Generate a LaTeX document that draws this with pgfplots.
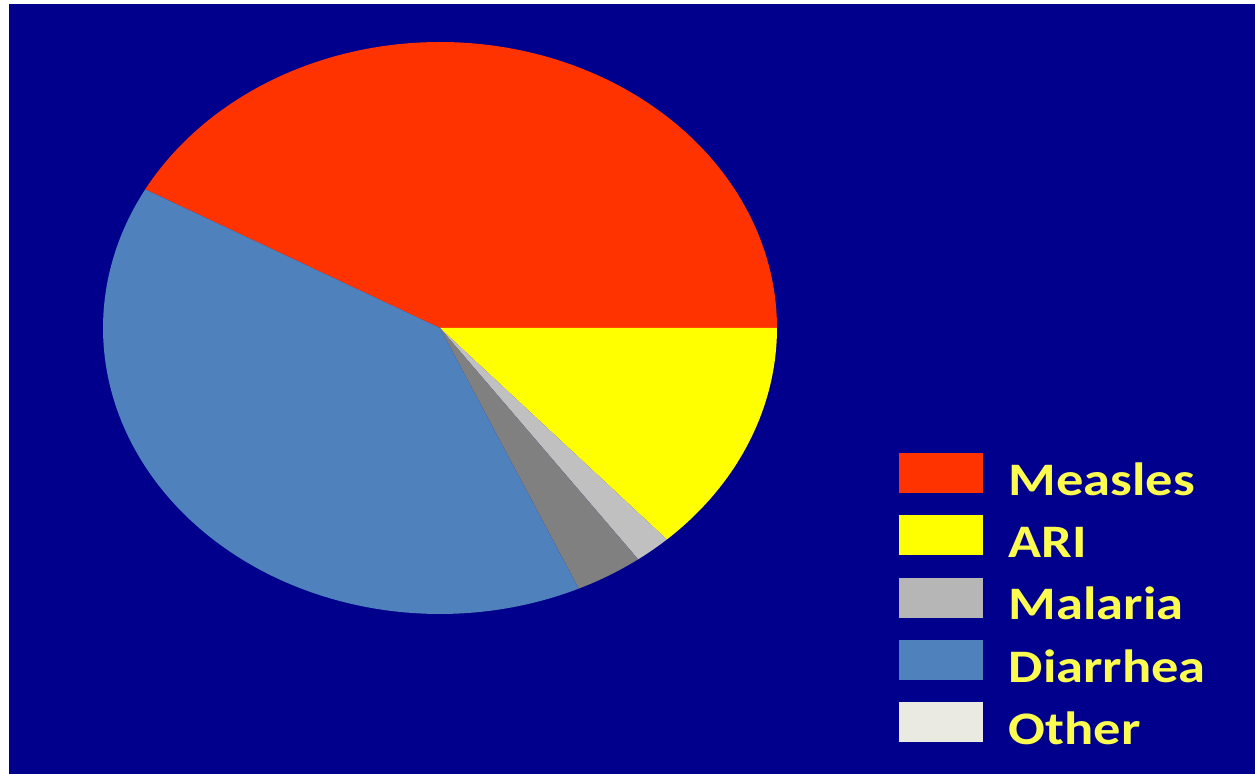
\documentclass[border=0pt]{standalone}
\usepackage{fontspec}
\setmainfont{Carlito}
\usepackage{graphicx}
\usepackage{pgfplots}
\pgfplotsset{compat=1.18}
\definecolor{bg}{RGB}{0,0,140}
\definecolor{measles}{RGB}{255,51,0}
\definecolor{ari}{RGB}{255,255,0}
\definecolor{slicelight}{RGB}{192,192,192}
\definecolor{slicedark}{RGB}{128,128,128}
\definecolor{diarrhea}{RGB}{79,129,189}
\definecolor{legmal}{RGB}{182,182,182}
\definecolor{legoth}{RGB}{234,234,226}
\definecolor{txt}{RGB}{252,252,80}
\newcommand{\sx}[1]{\scalebox{1.17}[1]{#1}}
% slice values (percent), clockwise from 151 degrees
\def\vMeasles{41.94}
\def\vARI{13.25}
\def\vLight{1.75}
\def\vDark{3.25}
\def\vDiarrhea{39.81}
\begin{document}
\begin{tikzpicture}
\useasboundingbox (0,0) rectangle (627.5pt,387pt);
\fill[white] (0,0) rectangle (627.5pt,387pt);
\fill[bg] (4.5pt,0) rectangle (627.5pt,385pt);
\pgfmathsetmacro\aA{151}
\pgfmathsetmacro\aB{\aA-3.6*\vMeasles}
\pgfmathsetmacro\aC{\aB-3.6*\vARI}
\pgfmathsetmacro\aD{\aC-3.6*\vLight}
\pgfmathsetmacro\aE{\aD-3.6*\vDark}
\pgfmathsetmacro\aF{\aE-3.6*\vDiarrhea}
\begin{axis}[
  at={(220pt,223pt)}, anchor=center,
  width=337pt, height=286pt, scale only axis,
  xmin=-1, xmax=1, ymin=-1, ymax=1,
  hide axis, clip=false,
  legend cell align=left,
  legend style={at={(axis description cs:1.181,0.2815)}, anchor=north west,
    draw=none, fill=none, inner sep=0pt, outer sep=0pt,
    text=txt, font=\bfseries\fontsize{23.3}{28}\selectfont,
    nodes={inner sep=0pt, text height=21pt, text depth=0pt},
    row sep=10pt, column sep=13pt},
]
\addplot[fill=measles, draw=none, domain=\aB:\aA, samples=120, forget plot] ({cos(x)},{sin(x)}) -- (0,0) -- cycle;
\addplot[fill=ari, draw=none, domain=\aC:\aB, samples=60, forget plot] ({cos(x)},{sin(x)}) -- (0,0) -- cycle;
\addplot[fill=slicelight, draw=none, domain=\aD:\aC, samples=20, forget plot] ({cos(x)},{sin(x)}) -- (0,0) -- cycle;
\addplot[fill=slicedark, draw=none, domain=\aE:\aD, samples=20, forget plot] ({cos(x)},{sin(x)}) -- (0,0) -- cycle;
\addplot[fill=diarrhea, draw=none, domain=\aF:\aE, samples=120, forget plot] ({cos(x)},{sin(x)}) -- (0,0) -- cycle;
\addlegendimage{legend image code/.code={\fill[measles] (0pt,-9.05pt) rectangle (41.5pt,10.45pt);}}
\addlegendentry{\sx{Measles}}
\addlegendimage{legend image code/.code={\fill[ari] (0pt,-9.05pt) rectangle (41.5pt,10.45pt);}}
\addlegendentry{\sx{ARI}}
\addlegendimage{legend image code/.code={\fill[legmal] (0pt,-9.05pt) rectangle (41.5pt,10.45pt);}}
\addlegendentry{\sx{Malaria}}
\addlegendimage{legend image code/.code={\fill[diarrhea] (0pt,-9.05pt) rectangle (41.5pt,10.45pt);}}
\addlegendentry{\sx{Diarrhea}}
\addlegendimage{legend image code/.code={\fill[legoth] (0pt,-9.05pt) rectangle (41.5pt,10.45pt);}}
\addlegendentry{\sx{Other}}
\end{axis}
\end{tikzpicture}
\end{document}
